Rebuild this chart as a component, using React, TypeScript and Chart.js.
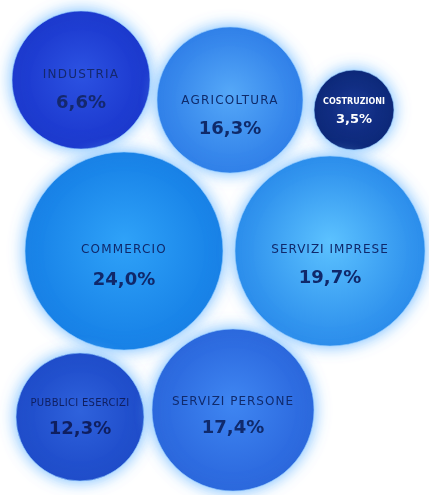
import React, { useEffect, useRef } from "react";
import { Chart, registerables } from "chart.js";

Chart.register(...registerables);

const labels = ["INDUSTRIA", "AGRICOLTURA", "COSTRUZIONI", "COMMERCIO", "SERVIZI IMPRESE", "PUBBLICI ESERCIZI", "SERVIZI PERSONE"];
const percents = ["6,6%", "16,3%", "3,5%", "24,0%", "19,7%", "12,3%", "17,4%"];
const bubbleX = [81, 230, 354, 124, 330, 80, 233];
const bubbleY = [80, 100, 110, 251, 251, 417, 410];
const bubbleR = [69, 73, 40, 99, 95, 64, 81];
const edgeColors = ["#1a36cc", "#2f7fe8", "#0a2475", "#1680e6", "#2a8ceb", "#1d4ac8", "#2a66dc"];
const centerColors = ["#2c52e2", "#55a8f8", "#1b3a94", "#2fa2f8", "#5cc2ff", "#2f62dc", "#3f86f2"];
const textMidDy = [9, 15, 1, 14, 13, -1, 5];
const textHalfGap = [14, 14, 9, 15, 14, 13, 13];
const labelFonts = ["12px", "12px", "bold 8px", "12px", "12px", "10px", "12px"];
const labelSpacing = ["1.2px", "1.2px", "0px", "1.2px", "1px", "0.3px", "1px"];
const pctFonts = ["bold 18px", "bold 18px", "bold 13px", "bold 18px", "bold 18px", "bold 18px", "bold 18px"];
const textColors = ["#14286e", "#0f2a6a", "#ffffff", "#10286a", "#10286a", "#0f1f60", "#102a6c"];

export default function App() {
  const ref = useRef<HTMLCanvasElement | null>(null);
  useEffect(() => {
    document.body.style.margin = "0";
    const canvas = ref.current!;
    const glow = {
      id: "glow",
      beforeDatasetDraw(chart: any) {
        const c = chart.ctx;
        c.save();
        c.shadowColor = "rgba(110,185,255,1)";
        c.shadowBlur = 16;
      },
      afterDatasetDraw(chart: any) {
        chart.ctx.restore();
      },
    };
    const texts = {
      id: "texts",
      afterDatasetsDraw(chart: any) {
        const c = chart.ctx;
        const meta = chart.getDatasetMeta(0);
        c.save();
        c.textAlign = "center";
        c.textBaseline = "middle";
        meta.data.forEach((el: any, i: number) => {
          const mid = el.y + textMidDy[i];
          c.fillStyle = textColors[i];
          c.font = `${labelFonts[i]} 'DejaVu Sans', sans-serif`;
          (c as any).letterSpacing = labelSpacing[i];
          c.fillText(labels[i], el.x, mid - textHalfGap[i]);
          (c as any).letterSpacing = "0px";
          c.font = `${pctFonts[i]} 'DejaVu Sans', sans-serif`;
          c.fillText(percents[i], el.x, mid + textHalfGap[i]);
        });
        c.restore();
      },
    };
    const chart = new Chart(canvas, {
      type: "bubble",
      data: {
        datasets: [
          {
            data: labels.map((_, i) => ({ x: bubbleX[i], y: bubbleY[i], r: bubbleR[i] })),
            backgroundColor: (ctx: any) => {
              const ch = ctx.chart;
              const i = ctx.dataIndex;
              if (i === undefined || !ch.chartArea) return edgeColors[i ?? 0];
              const x = ch.scales.x.getPixelForValue(bubbleX[i]);
              const y = ch.scales.y.getPixelForValue(bubbleY[i]);
              const g = ch.ctx.createRadialGradient(x, y - bubbleR[i] * 0.1, 0, x, y, bubbleR[i]);
              g.addColorStop(0, centerColors[i]);
              g.addColorStop(1, edgeColors[i]);
              return g;
            },
            borderColor: "rgba(150,205,255,0.6)",
            borderWidth: 1,
            hoverRadius: 0,
            clip: false as any,
          },
        ],
      },
      options: {
        responsive: false,
        animation: false,
        events: [],
        layout: { padding: 0, autoPadding: false },
        plugins: { legend: { display: false }, tooltip: { enabled: false } },
        scales: {
          x: { display: false, min: 0, max: 429 },
          y: { display: false, min: 0, max: 495, reverse: true },
        },
      },
      plugins: [glow, texts],
    });
    return () => chart.destroy();
  }, []);
  return (
    <div style={{ position: "absolute", left: 0, top: 0, width: 429, height: 495, background: "#ffffff" }}>
      <canvas ref={ref} width={429} height={495} />
    </div>
  );
}
